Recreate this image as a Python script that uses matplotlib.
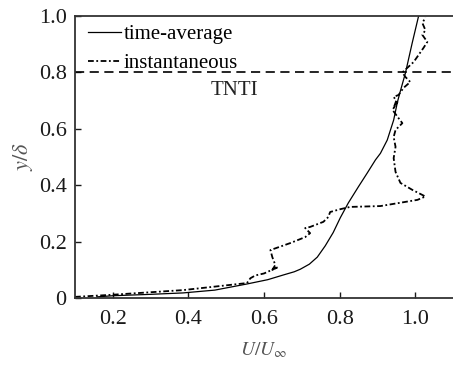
import matplotlib
matplotlib.use("Agg")
import matplotlib.pyplot as plt

plt.rcParams['font.family'] = ['Liberation Serif', 'DejaVu Serif']
plt.rcParams['mathtext.fontset'] = 'stix'

# time-averaged profile
avg_u = [0.158, 0.2, 0.3, 0.386, 0.47, 0.556, 0.61, 0.652, 0.68, 0.696, 0.72, 0.741,
         0.762, 0.783, 0.802, 0.823, 0.85, 0.873, 0.895, 0.908, 0.926, 0.943, 0.953,
         0.961, 0.974, 0.992, 1.009]
avg_y = [0.004, 0.008, 0.013, 0.018, 0.028, 0.05, 0.065, 0.082, 0.093, 0.102, 0.12, 0.145,
         0.185, 0.232, 0.285, 0.337, 0.395, 0.443, 0.49, 0.513, 0.56, 0.631, 0.695,
         0.735, 0.797, 0.904, 1.0]

# instantaneous profile
inst_u = [0.1, 0.193, 0.386, 0.555, 0.564, 0.577, 0.6, 0.638, 0.622, 0.63, 0.622, 0.617,
          0.67, 0.709, 0.722, 0.709, 0.722, 0.757, 0.77, 0.775, 0.802, 0.828, 0.908,
          1.006, 1.027, 0.993, 0.961, 0.948, 0.943, 0.948, 0.943, 0.948, 0.966, 0.953,
          0.94, 0.953, 0.943, 0.95, 0.943, 0.956, 0.969, 0.987, 0.974, 0.966, 0.979,
          0.996, 1.009, 1.022, 1.032, 1.019, 1.027, 1.019, 1.027]
inst_y = [0.004, 0.011, 0.028, 0.053, 0.07, 0.08, 0.087, 0.11, 0.1, 0.117, 0.145, 0.17,
          0.195, 0.216, 0.23, 0.248, 0.252, 0.27, 0.287, 0.305, 0.315, 0.323, 0.326,
          0.348, 0.36, 0.383, 0.408, 0.447, 0.496, 0.536, 0.571, 0.596, 0.62, 0.643,
          0.667, 0.695, 0.674, 0.70, 0.713, 0.72, 0.745, 0.766, 0.784, 0.80, 0.816,
          0.837, 0.862, 0.887, 0.908, 0.933, 0.95, 0.975, 0.995]

tnti_y = 0.8
xticks = [0.2, 0.4, 0.6, 0.8, 1.0]
xtick_labels = ['0.2', '0.4', '0.6', '0.8', '1.0']
yticks = [0, 0.2, 0.4, 0.6, 0.8, 1.0]
ytick_labels = ['0', '0.2', '0.4', '0.6', '0.8', '1.0']

fig = plt.figure(figsize=(4.53, 3.65), dpi=100)
ax = fig.add_axes([75 / 453, 67 / 365, 1 - 75 / 453, 282 / 365])

ax.plot(avg_u, avg_y, color='black', lw=0.9, label='time-average')
ax.plot(inst_u, inst_y, color='black', lw=1.3, dashes=(3.2, 1.4, 1.0, 1.4),
        label='instantaneous')
ax.axhline(tnti_y, color='black', lw=1.2, dashes=(5.5, 3.3))
ax.text(0.46, 0.737, 'TNTI', fontsize=15, va='center', ha='left', color='#222222')

ax.set_xlim(0.1, 1.1)
ax.set_ylim(0, 1.0)
ax.set_xticks(xticks)
ax.set_xticklabels(xtick_labels)
ax.set_yticks(yticks)
ax.set_yticklabels(ytick_labels)
ax.tick_params(direction='in', length=4, width=1, labelsize=16, colors='#1a1a1a', pad=6)
ax.tick_params(axis='x', pad=9)
for side in ['left', 'bottom', 'top']:
    ax.spines[side].set_linewidth(1.3)
    ax.spines[side].set_color('#333333')
ax.spines['right'].set_visible(False)

ax.set_xlabel(r'$U/U_\infty$', fontsize=14, color='#555555', labelpad=8)
ax.set_ylabel(r'$y/\delta$', fontsize=16, color='#555555', labelpad=3)

ax.legend(loc='upper left', frameon=False, fontsize=15, handlelength=1.6,
          handletextpad=0.1, borderaxespad=0, borderpad=0, labelspacing=0.45,
          bbox_to_anchor=(0.034, 0.97))

fig.savefig('out.png', dpi=100)
